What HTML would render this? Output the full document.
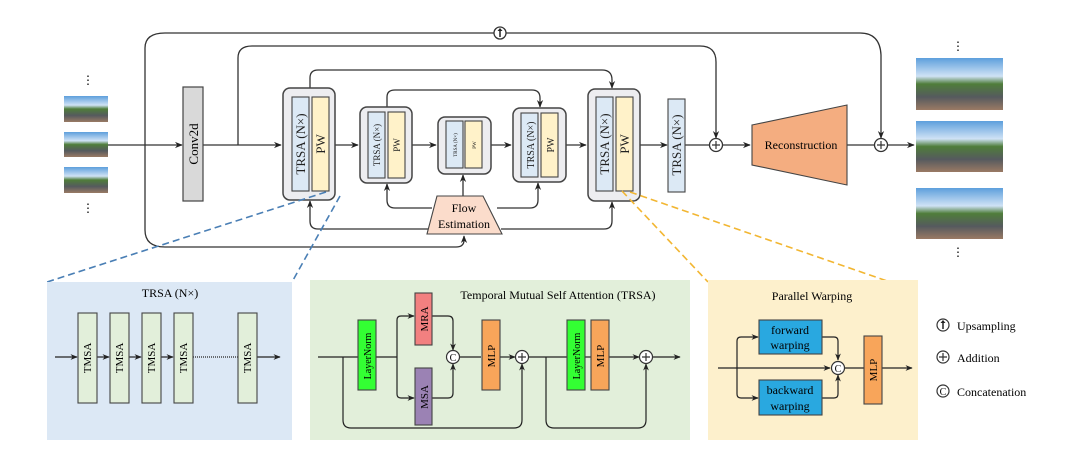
<!DOCTYPE html>
<html><head><meta charset="utf-8"><style>
body{margin:0;background:#fff}
svg{display:block}
svg text{font-family:"Liberation Serif","DejaVu Serif",serif}
</style></head><body>
<svg width="1080" height="453" viewBox="0 0 1080 453" xmlns="http://www.w3.org/2000/svg" font-family="Liberation Serif, serif">
<defs>
<marker id="a" viewBox="0 0 10 10" refX="9" refY="5" markerWidth="6" markerHeight="6" orient="auto"><path d="M0,1 L10,5 L0,9 L3,5 z" fill="#222"/></marker>
<linearGradient id="img" x1="0" y1="0" x2="0" y2="1">
<stop offset="0" stop-color="#5d9fdc"/><stop offset="0.35" stop-color="#cfe2f5"/><stop offset="0.5" stop-color="#4f7d3a"/><stop offset="0.75" stop-color="#555a5e"/><stop offset="1" stop-color="#9a7a64"/></linearGradient>
</defs>
<g fill="none" stroke="#333" stroke-width="1.3">
<path d="M108,145 H182" marker-end="url(#a)"/>
<path d="M203,145 H281" marker-end="url(#a)"/>
<path d="M335,145 H358" marker-end="url(#a)"/>
<path d="M412,145 H436" marker-end="url(#a)"/>
<path d="M491,145 H511" marker-end="url(#a)"/>
<path d="M566,145 H586" marker-end="url(#a)"/>
<path d="M640,145 H667" marker-end="url(#a)"/>
<path d="M685,145 H710"/>
<path d="M722,145 H750" marker-end="url(#a)"/>
<path d="M847,145 H875"/>
<path d="M887,145 H914" marker-end="url(#a)"/>
<path d="M145,145 V48 Q145,33 165,33 H495"/>
<path d="M505,33 H860 Q880,33 881,55 V138" marker-end="url(#a)"/>
<path d="M145,145 V230 Q145,247 165,247 H456 Q464,247 464,240 V236" marker-end="url(#a)"/>
<path d="M238,145 V58 Q238,46 252,46 H700 Q716,46 716,62 V138" marker-end="url(#a)"/>
<path d="M310,88 V78 Q310,70 318,70 H602 Q612,70 612,80 V88" marker-end="url(#a)"/>
<path d="M387,107 V97 Q387,90 395,90 H532 Q540,90 540,98 V107" marker-end="url(#a)"/>
<path d="M432,208 H395 Q387,208 387,200 V184" marker-end="url(#a)"/>
<path d="M497,208 H530 Q538,208 538,200 V183" marker-end="url(#a)"/>
<path d="M463,196 V175" marker-end="url(#a)"/>
<path d="M428,229 H318 Q310,229 310,221 V201" marker-end="url(#a)"/>
<path d="M501,229 H604 Q612,229 612,221 V202" marker-end="url(#a)"/>
</g>
<circle cx="500" cy="33" r="6" fill="#fff" stroke="#333" stroke-width="1.3"/>
<path d="M500,37 V30" stroke="#222" stroke-width="1.5"/><path d="M497.5,31 L500,28 L502.5,31z" fill="#222"/>
<g fill="#fff" stroke="#333" stroke-width="1.3">
<circle cx="716" cy="145" r="6.5"/><circle cx="881" cy="145" r="6.5"/></g>
<path d="M712,145h8M716,141v8M877,145h8M881,141v8" stroke="#333" stroke-width="1.2"/>
<rect x="64" y="96" width="44" height="26" fill="url(#img)"/>
<rect x="64" y="132" width="44" height="25" fill="url(#img)"/>
<rect x="64" y="167" width="44" height="26" fill="url(#img)"/>
<text x="88" y="84" font-size="12" text-anchor="middle">⋮</text>
<text x="88" y="212" font-size="12" text-anchor="middle">⋮</text>
<rect x="916" y="58" width="87" height="52" fill="url(#img)"/>
<rect x="916" y="121" width="87" height="51" fill="url(#img)"/>
<rect x="916" y="188" width="87" height="51" fill="url(#img)"/>
<text x="958" y="50" font-size="12" text-anchor="middle">⋮</text>
<text x="958" y="256" font-size="12" text-anchor="middle">⋮</text>
<rect x="183" y="87" width="20" height="114" fill="#d9d9d9" stroke="#444" stroke-width="1.2"/>
<text transform="translate(198,144) rotate(-90)" font-size="13" text-anchor="middle">Conv2d</text>
<g stroke="#444" stroke-width="1.5">
<rect x="283" y="88" width="52" height="112" rx="7" fill="#ededf0"/>
<rect x="360" y="107" width="52" height="76" rx="7" fill="#ededf0"/>
<rect x="438" y="117" width="53" height="57" rx="7" fill="#ededf0"/>
<rect x="513" y="108" width="53" height="74" rx="7" fill="#ededf0"/>
<rect x="588" y="89" width="52" height="112" rx="7" fill="#ededf0"/>
</g>
<g stroke="#444" stroke-width="1.1">
<rect x="292" y="97" width="17" height="94" fill="#dce9f5"/><rect x="312" y="97" width="17" height="94" fill="#fff2c9"/>
<rect x="368" y="112" width="17" height="66" fill="#dce9f5"/><rect x="388" y="112" width="17" height="66" fill="#fff2c9"/>
<rect x="446" y="121" width="17" height="47" fill="#dce9f5"/><rect x="465" y="121" width="17" height="47" fill="#fff2c9"/>
<rect x="521" y="113" width="17" height="64" fill="#dce9f5"/><rect x="541" y="113" width="17" height="64" fill="#fff2c9"/>
<rect x="596" y="97" width="17" height="94" fill="#dce9f5"/><rect x="616" y="97" width="17" height="94" fill="#fff2c9"/>
<rect x="668" y="99" width="17" height="93" fill="#dce9f5"/>
</g>
<g fill="#222">
<text transform="translate(305,144) rotate(-90)" font-size="13" text-anchor="middle">TRSA (N×)</text>
<text transform="translate(325,144) rotate(-90)" font-size="13" text-anchor="middle">PW</text>
<text transform="translate(380,145) rotate(-90)" font-size="9" text-anchor="middle">TRSA (N×)</text>
<text transform="translate(400,145) rotate(-90)" font-size="9" text-anchor="middle">PW</text>
<text transform="translate(457,145) rotate(-90)" font-size="5" text-anchor="middle">TRSA (N×)</text>
<text transform="translate(476,145) rotate(-90)" font-size="5" text-anchor="middle">PW</text>
<text transform="translate(534,145) rotate(-90)" font-size="10" text-anchor="middle">TRSA (N×)</text>
<text transform="translate(554,145) rotate(-90)" font-size="10" text-anchor="middle">PW</text>
<text transform="translate(609,144) rotate(-90)" font-size="13" text-anchor="middle">TRSA (N×)</text>
<text transform="translate(629,144) rotate(-90)" font-size="13" text-anchor="middle">PW</text>
<text transform="translate(681,145) rotate(-90)" font-size="13" text-anchor="middle">TRSA (N×)</text>
</g>
<path d="M437,196 H483 L502,234 H427 Z" fill="#fbdccb" stroke="#444" stroke-width="1.1"/>
<text x="464" y="212" font-size="12" text-anchor="middle">Flow</text>
<text x="464" y="228" font-size="12" text-anchor="middle">Estimation</text>
<path d="M752,125 L847,105 V185 L752,165 Z" fill="#f4ad80" stroke="#444" stroke-width="1.1"/>
<text x="801" y="149" font-size="12" text-anchor="middle">Reconstruction</text>
<g fill="none" stroke-width="1.6" stroke-dasharray="7,4">
<path d="M326,192 L47,282 M340,196 L292,282" stroke="#4a7fb5"/>
<path d="M622,191 L708,282 M630,192 L890,282" stroke="#f2b632"/>
</g>
<rect x="47" y="282" width="245" height="158" fill="#dce8f5"/>
<rect x="310" y="280" width="380" height="160" fill="#e2efda"/>
<rect x="708" y="280" width="210" height="160" fill="#fdf0cc"/>
<text x="170" y="297" font-size="12" text-anchor="middle">TRSA (N×)</text>
<g fill="none" stroke="#222" stroke-width="1.2">
<path d="M55,357 H77" marker-end="url(#a)"/><path d="M97,357 H109" marker-end="url(#a)"/>
<path d="M129,357 H141" marker-end="url(#a)"/><path d="M161,357 H173" marker-end="url(#a)"/>
<path d="M193,357 H238" stroke-dasharray="1,1"/><path d="M257,357 H280" marker-end="url(#a)"/>
</g>
<g fill="#e2efda" stroke="#444" stroke-width="1.1">
<rect x="78" y="313" width="19" height="90"/><rect x="110" y="313" width="19" height="90"/>
<rect x="142" y="313" width="19" height="90"/><rect x="174" y="313" width="19" height="90"/>
<rect x="238" y="313" width="19" height="90"/></g>
<g font-size="11" text-anchor="middle">
<text transform="translate(91,358) rotate(-90)">TMSA</text><text transform="translate(123,358) rotate(-90)">TMSA</text>
<text transform="translate(155,358) rotate(-90)">TMSA</text><text transform="translate(187,358) rotate(-90)">TMSA</text>
<text transform="translate(251,358) rotate(-90)">TMSA</text></g>
<text x="558" y="299" font-size="12" text-anchor="middle">Temporal Mutual Self Attention (TRSA)</text>
<g fill="none" stroke="#222" stroke-width="1.2">
<path d="M318,357 H358"/><path d="M376,357 H397"/>
<path d="M397,357 V320 Q397,316 401,316 H414" marker-end="url(#a)"/>
<path d="M397,357 V394 Q397,398 401,398 H414" marker-end="url(#a)"/>
<path d="M432,316 H448 Q453,316 453,321 V350" marker-end="url(#a)"/>
<path d="M432,398 H448 Q453,398 453,393 V364" marker-end="url(#a)"/>
<path d="M460,357 H481"/><path d="M500,357 H515" marker-end="url(#a)"/>
<path d="M343,357 V420 Q343,428 351,428 H514 Q522,428 522,420 V364" marker-end="url(#a)"/>
<path d="M528,357 H567"/><path d="M585,357 H591"/><path d="M609,357 H639" marker-end="url(#a)"/>
<path d="M546,357 V420 Q546,428 554,428 H638 Q646,428 646,420 V364" marker-end="url(#a)"/>
<path d="M652,357 H680" marker-end="url(#a)"/>
</g>
<g stroke="#444" stroke-width="1.1">
<rect x="358" y="320" width="18" height="70" fill="#33ff33"/>
<rect x="415" y="293" width="17" height="52" fill="#f28080"/>
<rect x="415" y="368" width="17" height="57" fill="#9b82b4"/>
<rect x="482" y="320" width="18" height="70" fill="#f8a55a"/>
<rect x="567" y="320" width="18" height="70" fill="#33ff33"/>
<rect x="591" y="320" width="18" height="70" fill="#f8a55a"/>
</g>
<g font-size="11" text-anchor="middle">
<text transform="translate(371,356) rotate(-90)" font-size="10">LayerNorm</text>
<text transform="translate(428,319) rotate(-90)">MRA</text>
<text transform="translate(428,397) rotate(-90)">MSA</text>
<text transform="translate(495,356) rotate(-90)">MLP</text>
<text transform="translate(580,356) rotate(-90)" font-size="10">LayerNorm</text>
<text transform="translate(604,356) rotate(-90)">MLP</text>
</g>
<g fill="#fff" stroke="#333" stroke-width="1.2">
<circle cx="453" cy="357" r="6.5"/><circle cx="522" cy="357" r="6.5"/><circle cx="646" cy="357" r="6.5"/>
</g>
<text x="453" y="361" font-size="10" text-anchor="middle">C</text>
<path d="M518,357h8M522,353v8M642,357h8M646,353v8" stroke="#333" stroke-width="1.2"/>
<text x="812" y="300" font-size="12" text-anchor="middle">Parallel Warping</text>
<g fill="none" stroke="#222" stroke-width="1.2">
<path d="M718,368 H830" marker-end="url(#a)"/>
<path d="M737,368 V341 Q737,337 741,337 H758" marker-end="url(#a)"/>
<path d="M737,368 V394 Q737,398 741,398 H758" marker-end="url(#a)"/>
<path d="M822,337 H834 Q838,337 838,341 V360" marker-end="url(#a)"/>
<path d="M822,398 H834 Q838,398 838,394 V375" marker-end="url(#a)"/>
<path d="M845,368 H864"/><path d="M882,368 H912" marker-end="url(#a)"/>
</g>
<g stroke="#444" stroke-width="1.1">
<rect x="759" y="320" width="63" height="34" fill="#29a8e0"/>
<rect x="759" y="380" width="63" height="35" fill="#29a8e0"/>
<rect x="864" y="336" width="18" height="68" fill="#f8a55a"/>
</g>
<circle cx="838" cy="368" r="6.5" fill="#fff" stroke="#333" stroke-width="1.2"/>
<text x="838" y="372" font-size="10" text-anchor="middle">C</text>
<g font-size="12" text-anchor="middle">
<text x="790" y="334">forward</text><text x="790" y="349">warping</text>
<text x="790" y="394">backward</text><text x="790" y="410">warping</text>
<text transform="translate(877,370) rotate(-90)" font-size="11">MLP</text>
</g>
<g fill="#fff" stroke="#333" stroke-width="1.2">
<circle cx="943" cy="325" r="6"/><circle cx="943" cy="357" r="6"/><circle cx="943" cy="391" r="6"/></g>
<path d="M943,329 V322" stroke="#222" stroke-width="1.5"/><path d="M940.5,323 L943,320 L945.5,323z" fill="#222"/>
<path d="M939,357h8M943,353v8" stroke="#333" stroke-width="1.2"/>
<text x="943" y="395" font-size="10" text-anchor="middle">C</text>
<g font-size="12">
<text x="957" y="330">Upsampling</text><text x="957" y="362">Addition</text><text x="957" y="396">Concatenation</text></g>
</svg>
</body></html>
